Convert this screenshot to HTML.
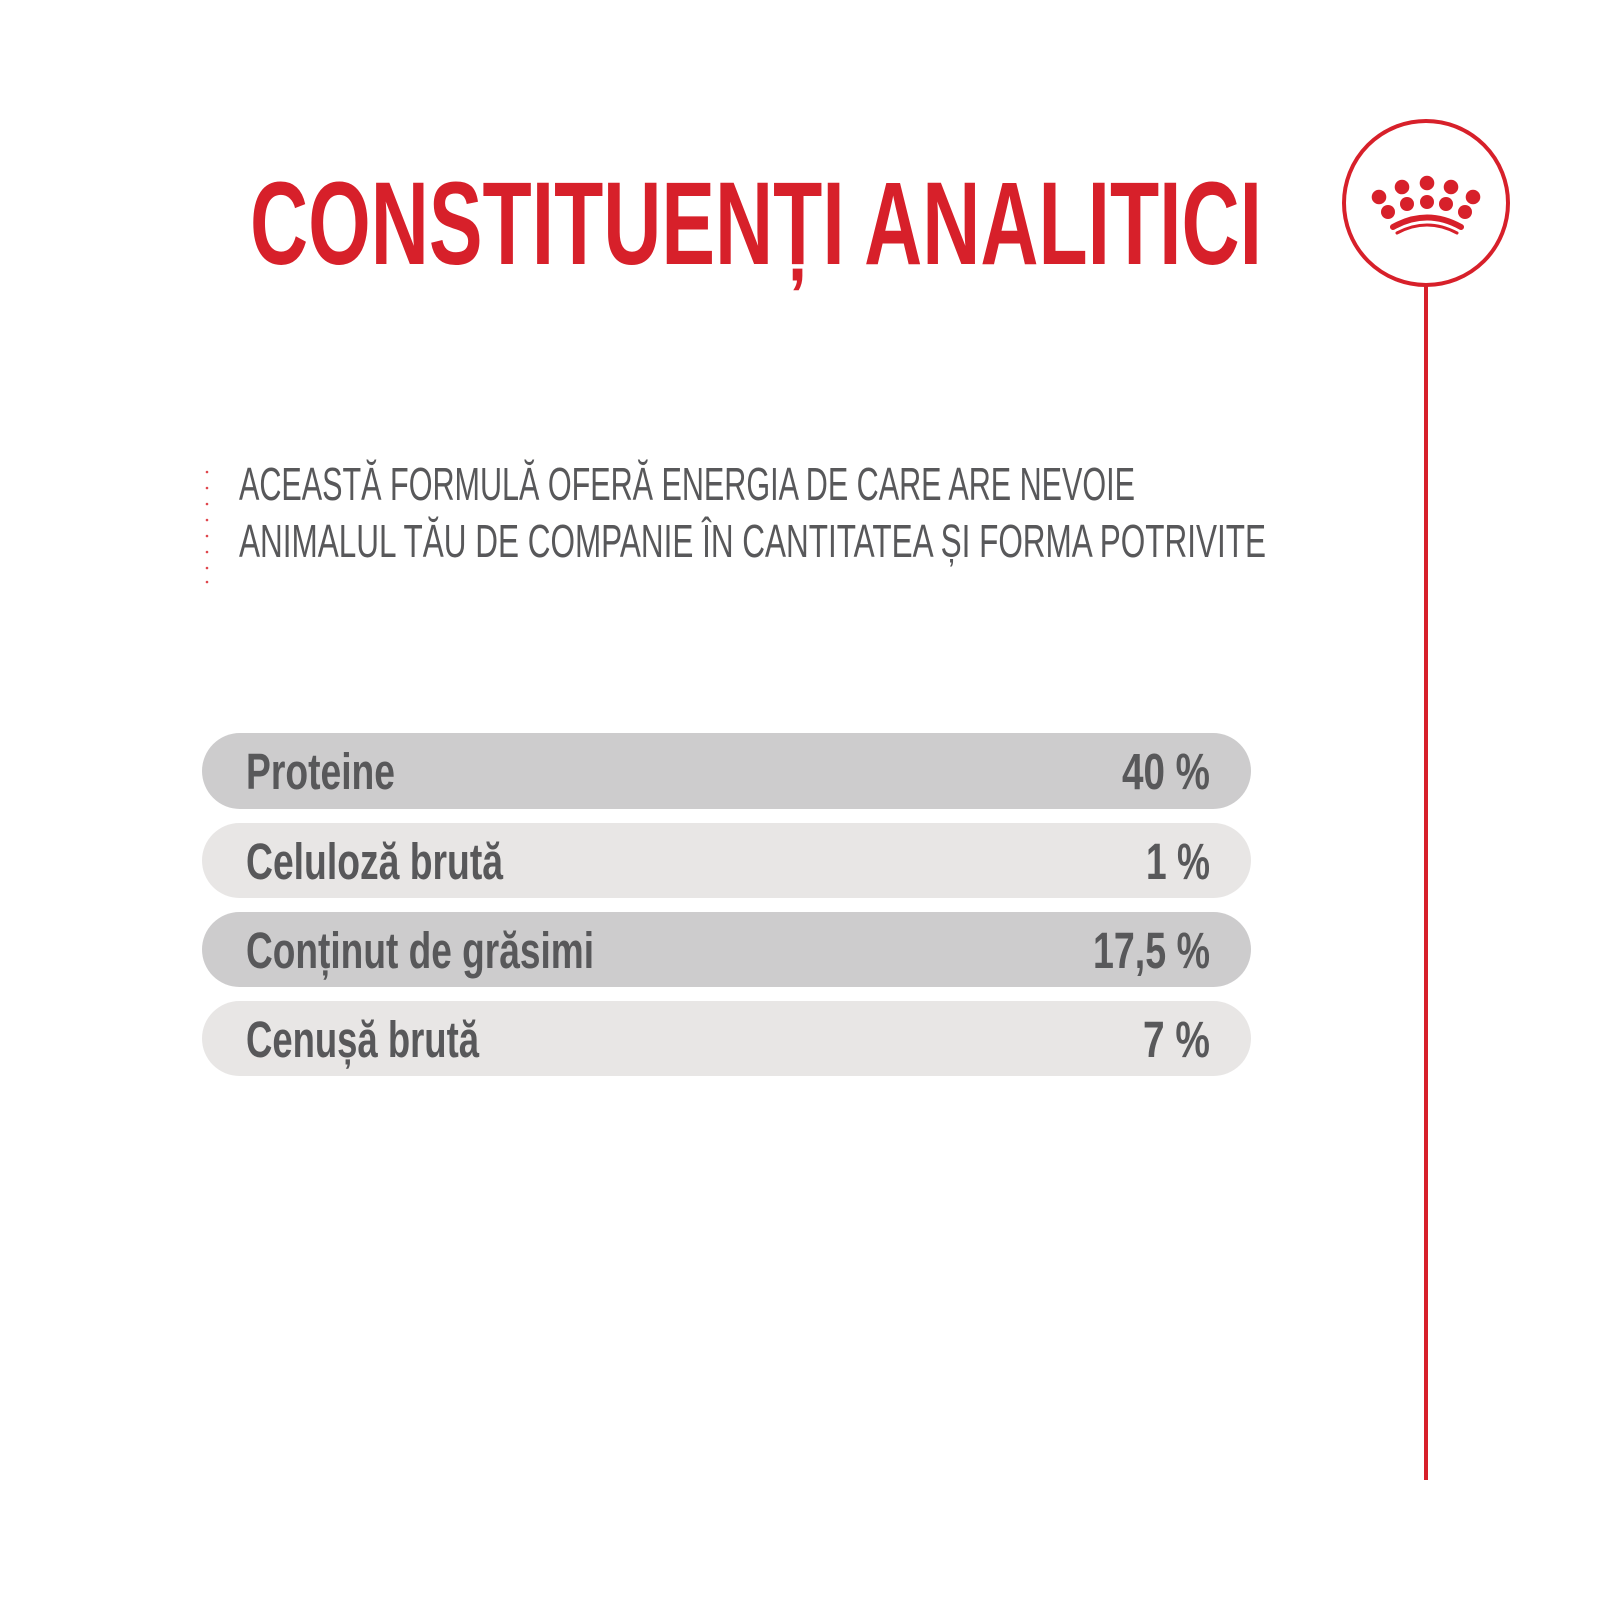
<!DOCTYPE html>
<html><head><meta charset="utf-8"><style>
html,body{margin:0;padding:0;background:#fff;}
svg{display:block;}
</style></head><body>
<svg width="1600" height="1600" viewBox="0 0 1600 1600" xmlns="http://www.w3.org/2000/svg">
<rect width="1600" height="1600" fill="#fff"/>
<text x="250" y="264" font-family="Liberation Sans, sans-serif" font-weight="bold" font-size="118" fill="#d7202a" textLength="1012" lengthAdjust="spacingAndGlyphs">CONSTITUENȚI ANALITICI</text>
<g font-family="Liberation Sans, sans-serif" font-size="46" fill="#58585a">
<text x="239" y="500" textLength="896" lengthAdjust="spacingAndGlyphs">ACEASTĂ FORMULĂ OFERĂ ENERGIA DE CARE ARE NEVOIE</text>
<text x="239" y="557" textLength="1027" lengthAdjust="spacingAndGlyphs">ANIMALUL TĂU DE COMPANIE ÎN CANTITATEA ȘI FORMA POTRIVITE</text>
</g>
<g fill="#e0464d">
<circle cx="207" cy="472" r="1.3"/><circle cx="207" cy="488" r="1.3"/><circle cx="207" cy="504" r="1.3"/><circle cx="207" cy="520" r="1.3"/><circle cx="207" cy="536" r="1.3"/><circle cx="207" cy="552" r="1.3"/><circle cx="207" cy="568" r="1.3"/><circle cx="207" cy="582" r="1.3"/>
</g>
<circle cx="1426" cy="203" r="82" fill="none" stroke="#d7202a" stroke-width="4"/>
<line x1="1426" y1="285" x2="1426" y2="1480" stroke="#d7202a" stroke-width="4"/>
<g fill="#d7202a">
<circle cx="1379" cy="197" r="7.3"/><circle cx="1402" cy="187" r="7.3"/><circle cx="1427" cy="183" r="7.3"/><circle cx="1451" cy="187" r="7.3"/><circle cx="1473" cy="197" r="7.3"/>
<circle cx="1388" cy="212" r="7"/><circle cx="1407" cy="204" r="7"/><circle cx="1427" cy="202" r="7"/><circle cx="1446" cy="204" r="7"/><circle cx="1465" cy="212" r="7"/>
</g>
<path d="M1393 227 Q1427 208 1461 227" fill="none" stroke="#d7202a" stroke-width="6" stroke-linecap="round"/>
<path d="M1397 233 Q1427 217 1457 233" fill="none" stroke="#d7202a" stroke-width="3" stroke-linecap="round"/>
<rect x="202" y="733" width="1049" height="76" rx="38" fill="#cdcccd"/>
<rect x="202" y="823" width="1049" height="75" rx="37.5" fill="#e8e6e5"/>
<rect x="202" y="912" width="1049" height="75" rx="37.5" fill="#cdcccd"/>
<rect x="202" y="1001" width="1049" height="75" rx="37.5" fill="#e8e6e5"/>
<g font-family="Liberation Sans, sans-serif" font-weight="bold" font-size="51" fill="#58585a">
<text x="246" y="789" textLength="149" lengthAdjust="spacingAndGlyphs">Proteine</text>
<text x="246" y="879" textLength="257" lengthAdjust="spacingAndGlyphs">Celuloză brută</text>
<text x="246" y="968" textLength="348" lengthAdjust="spacingAndGlyphs">Conținut de grăsimi</text>
<text x="246" y="1057" textLength="233" lengthAdjust="spacingAndGlyphs">Cenușă brută</text>
<text x="1122" y="789" textLength="88" lengthAdjust="spacingAndGlyphs">40 %</text>
<text x="1146" y="879" textLength="64" lengthAdjust="spacingAndGlyphs">1 %</text>
<text x="1093" y="968" textLength="117" lengthAdjust="spacingAndGlyphs">17,5 %</text>
<text x="1143" y="1057" textLength="67" lengthAdjust="spacingAndGlyphs">7 %</text>
</g>
</svg>
</body></html>
